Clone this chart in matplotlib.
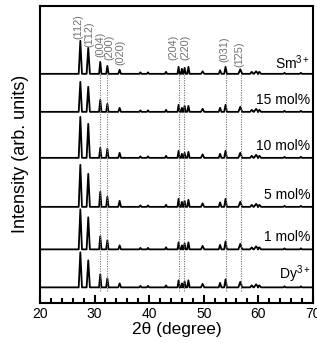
"""XRD patterns of the Dy/Sm doped series, stacked with offsets."""
import numpy as np
import matplotlib
matplotlib.use("Agg")
import matplotlib.pyplot as plt

plt.rcParams["font.family"] = ["Liberation Sans", "DejaVu Sans"]
plt.rcParams["mathtext.fontset"] = "custom"
plt.rcParams["mathtext.rm"] = "Liberation Sans"
plt.rcParams["mathtext.it"] = "Liberation Sans"

# ── Data ─────────────────────────────────────────────────────────────────────
SAMPLES = ["Dy$^{3+}$", "1 mol%", "5 mol%", "10 mol%", "15 mol%", "Sm$^{3+}$"]

PEAK_POS = [27.4, 28.85, 31.05, 32.35, 34.6, 38.4, 39.8, 43.1, 45.4, 46.0,
            46.5, 47.2, 49.8, 53.0, 54.0, 56.7, 58.8, 59.6, 60.2, 64.8, 67.8]
PEAK_HW = [0.3, 0.3, 0.22, 0.22, 0.25, 0.2, 0.2, 0.2, 0.2, 0.15,
           0.2, 0.22, 0.3, 0.25, 0.25, 0.35, 0.3, 0.4, 0.3, 0.2, 0.2]

HEIGHTS = {
    "Dy$^{3+}$": [35, 27, 13, 9, 4, 1.5, 1.5, 2, 7, 4, 6, 7, 3.5, 4.5, 8, 5.5, 2, 3, 2, 1, 1],
    "1 mol%":    [40, 32, 13, 9, 4, 1.5, 1.5, 2, 7, 4, 6, 7, 3.5, 4.5, 8, 5.5, 2, 3, 2, 1, 1],
    "5 mol%":    [42, 33, 15, 10, 6, 1.5, 1.5, 2, 8, 5, 6, 7, 3.5, 4.5, 8, 5, 2, 3, 2, 1, 1],
    "10 mol%":   [41, 34, 10, 9, 5, 1.5, 1.5, 2, 7, 4, 5, 6, 3.5, 4, 7, 5, 2, 3, 2, 1, 1],
    "15 mol%":   [30, 25, 12, 8, 4, 1.5, 1.5, 2, 7, 4, 6, 6, 3, 4, 7, 5, 2, 3, 2, 1, 1],
    "Sm$^{3+}$": [33, 26, 12, 8, 4, 1.5, 1.5, 2, 7, 5, 6, 7, 2.5, 3.5, 7, 4.5, 2, 2.5, 2, 1, 1],
}

HKL_LABELS = ["(112)", "(1\u030412)", "(004)", "(200)", "(020)",
              "(204)", "(220)", "(031)", "(1\u030425)"]
HKL_X = [27.1, 29.0, 31.0, 32.8, 34.65, 44.4, 46.7, 53.7, 56.6]
HKL_Y = [264, 256, 246, 243, 238, 243, 243, 241, 236]   # bottom of label

GUIDE_X = [31.05, 32.35, 45.5, 46.3, 54.0, 56.8]

# ── Layout ───────────────────────────────────────────────────────────────────
OFFSETS = [15.5, 53.5, 96, 145, 191, 229]
X_MIN, X_MAX = 20, 70
GRAY = "#707070"


def trace(heights):
    xs, ys = [X_MIN], [0.0]
    for p, w, h in zip(PEAK_POS, PEAK_HW, heights):
        xs += [p - w, p, p + w]
        ys += [0.0, h, 0.0]
    xs.append(X_MAX)
    ys.append(0.0)
    return np.array(xs), np.array(ys)


fig = plt.figure(figsize=(3.17, 3.43), dpi=100)
ax = fig.add_axes([0.126, 0.117, 0.861, 0.866])

for name, off in zip(SAMPLES, OFFSETS):
    x, y = trace(HEIGHTS[name])
    ax.plot(x, y + off, color="black", lw=1.3, solid_joinstyle="round")
    dy = 5 if name.startswith("Sm") else 8
    ax.text(69.5, off + dy, name, ha="right", va="baseline", fontsize=10)

for gx in GUIDE_X:
    ax.plot([gx, gx], [12, 229], color=GRAY, lw=0.8, ls=(0, (1, 1.2)))

for lab, lx, ly in zip(HKL_LABELS, HKL_X, HKL_Y):
    ax.text(lx, ly, lab, rotation=90, ha="center", va="bottom",
            fontsize=7.8, color=GRAY)

ax.set_xlim(X_MIN, X_MAX)
ax.set_ylim(0, 297)
ax.set_yticks([])
ax.set_xticks(np.arange(20, 71, 10))
ax.set_xticks(np.arange(22, 70, 2), minor=True)
ax.tick_params(axis="x", which="major", direction="in", length=6, width=1.5,
               labelsize=10, pad=3)
ax.tick_params(axis="x", which="minor", direction="in", length=3.5, width=1.5)
for s in ax.spines.values():
    s.set_linewidth(1.5)

ax.set_xlabel("2\u03b8 (degree)", fontsize=12.5, labelpad=1)
ax.set_ylabel("Intensity (arb. units)", fontsize=13, labelpad=8)

fig.savefig("out.png", dpi=100)
